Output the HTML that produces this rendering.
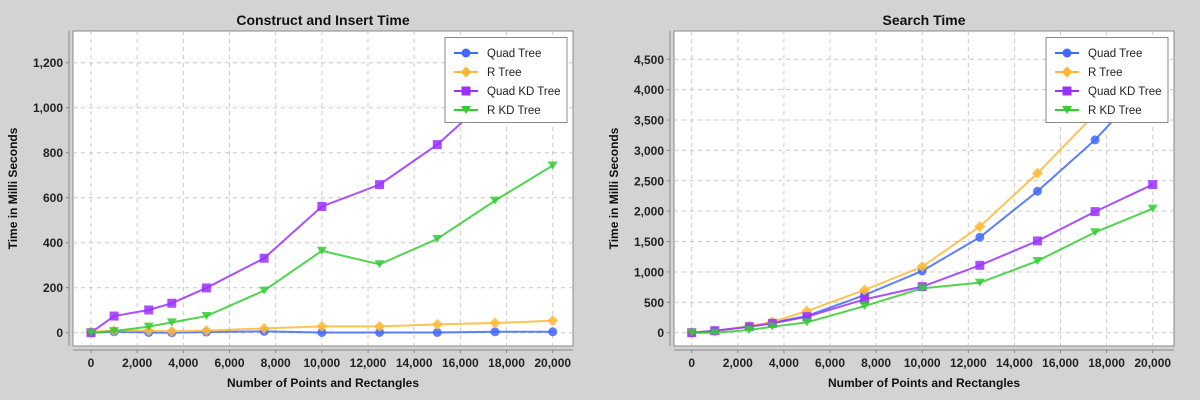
<!DOCTYPE html>
<html><head><meta charset="utf-8"><style>
body{margin:0;background:#d3d3d3;}
svg{display:block;font-family:"Liberation Sans","DejaVu Sans",sans-serif;}
</style></head><body>
<svg id="c" width="1200" height="400"></svg>
<script>
const xVals=[0,1000,2500,3500,5000,7500,10000,12500,15000,17500,20000];
const seriesNames=["Quad Tree","R Tree","Quad KD Tree","R KD Tree"];
const seriesColors=["#4169ff","#ffb835","#9b30ff","#33cc33"];
const leftQuad=[0,4,1,0,3,6,1,1,1,4,4];
const leftR=[4,9,9,6,9,19,28,28,37,43,53];
const leftQuadKD=[0,74,101,131,199,331,561,658,836,1066,1290];
const leftRKD=[0,7,27,46,74,187,364,304,417,587,743];
const rightQuad=[0,33,99,165,275,620,1016,1571,2328,3173,4200];
const rightR=[0,27,110,176,357,703,1087,1746,2624,3600,4600];
const rightQuadKD=[0,33,99,154,264,549,758,1109,1510,1993,2438];
const rightRKD=[0,0,44,99,170,439,730,824,1181,1653,2042];
const xTicks=[0,2000,4000,6000,8000,10000,12000,14000,16000,18000,20000];
const leftYTicks=[0,200,400,600,800,1000,1200];
const rightYTicks=[0,500,1000,1500,2000,2500,3000,3500,4000,4500];
const NS="http://www.w3.org/2000/svg";
const svg=document.getElementById('c');
function mk(t,a,p){const e=document.createElementNS(NS,t);for(const k in a)e.setAttribute(k,a[k]);(p||svg).appendChild(e);return e;}
function fmt(v){return v.toLocaleString('en-US');}
function marker(g,k,x,y,c){
  let e;
  if(k===0)e=mk('circle',{cx:x,cy:y,r:4.5,fill:c},g);
  else if(k===1)e=mk('polygon',{points:`${x},${y-5.5} ${x+5.5},${y} ${x},${y+5.5} ${x-5.5},${y}`,fill:c},g);
  else if(k===2)e=mk('rect',{x:x-4.5,y:y-4.5,width:9,height:9,fill:c},g);
  else e=mk('polygon',{points:`${x-5},${y-4} ${x+5},${y-4} ${x},${y+4}`,fill:c},g);
  return e;
}
function chart(id,px,title,series,yTicks,x0,x1,y0,yPerUnit){
  const L=px,R=px+500,T=31,B=346;
  const sx=v=>x0+v*(x1-x0)/20000;
  const sy=v=>y0-v*yPerUnit;
  const g=mk('g',{});
  
  
  const t=mk('text',{x:(L+R)/2,y:25,'text-anchor':'middle','font-size':14,'font-weight':'bold',fill:'#111'},g);
  t.textContent=title;
  
  
  const bg=mk('rect',{x:L,y:T,width:R-L,height:B-T,fill:'#fff',stroke:'#888','stroke-width':1},g);
  
  
  xTicks.forEach(v=>{mk('line',{x1:sx(v),x2:sx(v),y1:T,y2:B,stroke:'#c8c8c8','stroke-dasharray':'4,4'},g);});
  yTicks.forEach(v=>{mk('line',{x1:L,x2:R,y1:sy(v),y2:sy(v),stroke:'#c8c8c8','stroke-dasharray':'4,4'},g);});
  const ya=mk('g',{},g);
  
  
  mk('line',{x1:L-4,x2:L-4,y1:T,y2:B,stroke:'#888','stroke-width':1},ya);
  yTicks.forEach(v=>{
    mk('line',{x1:L-7,x2:L-4,y1:sy(v),y2:sy(v),stroke:'#888'},ya);
    const tl=mk('text',{x:L-10,y:sy(v)+4.5,'text-anchor':'end','font-size':12,'font-weight':'bold',fill:'#222'},ya);
    tl.textContent=fmt(v);
    
    
  });
  const yt=mk('text',{transform:`translate(${L-56},${(T+B)/2}) rotate(-90)`,'text-anchor':'middle','font-size':12,'font-weight':'bold',fill:'#111'},g);
  yt.textContent='Time in Milli Seconds';
  
  
  const xa=mk('g',{},g);
  
  
  mk('line',{x1:L,x2:R,y1:B+4,y2:B+4,stroke:'#888'},xa);
  xTicks.forEach(v=>{
    mk('line',{x1:sx(v),x2:sx(v),y1:B+4,y2:B+7,stroke:'#888'},xa);
    const tl=mk('text',{x:sx(v),y:B+21,'text-anchor':'middle','font-size':12,'font-weight':'bold',fill:'#222'},xa);
    tl.textContent=fmt(v);
    
    
  });
  const xt=mk('text',{x:(L+R)/2,y:387,'text-anchor':'middle','font-size':12,'font-weight':'bold',fill:'#111'},g);
  xt.textContent='Number of Points and Rectangles';
  
  
  const cp=mk('clipPath',{id:id+'-clip'},g);
  mk('rect',{x:L,y:T,width:R-L,height:B-T},cp);
  const sg=mk('g',{'clip-path':`url(#${id}-clip)`},g);
  series.forEach((vals,k)=>{
    const s=mk('g',{},sg);
    
    
    mk('polyline',{points:vals.map((v,i)=>sx(xVals[i])+','+sy(v)).join(' '),fill:'none',stroke:seriesColors[k],'stroke-width':2,'stroke-opacity':0.85},s);
    vals.forEach((v,i)=>{
      const m=marker(s,k,sx(xVals[i]),sy(v),seriesColors[k]);
      m.setAttribute('fill-opacity','0.85');
      
      
    });
  });
  const lg=mk('g',{},g);
  
  
  const lx=L+372;
  mk('rect',{x:lx,y:37.5,width:122,height:85,fill:'#fff',stroke:'#888'},lg);
  seriesNames.forEach((n,k)=>{
    const y=53+k*19;
    const e=mk('g',{},lg);
    
    
    mk('line',{x1:lx+9,x2:lx+33,y1:y,y2:y,stroke:seriesColors[k],'stroke-width':2},e);
    marker(e,k,lx+21,y,seriesColors[k]);
    const tx=mk('text',{x:lx+42,y:y+4,'font-size':11.5,fill:'#222'},e);
    tx.textContent=n;
  });
}
chart('construct-chart',73,'Construct and Insert Time',[leftQuad,leftR,leftQuadKD,leftRKD],leftYTicks,91,552.7,332.7,45/200);
chart('search-chart',674,'Search Time',[rightQuad,rightR,rightQuadKD,rightRKD],rightYTicks,691.7,1152.7,332.7,30.38/500);
</script>
</body></html>
